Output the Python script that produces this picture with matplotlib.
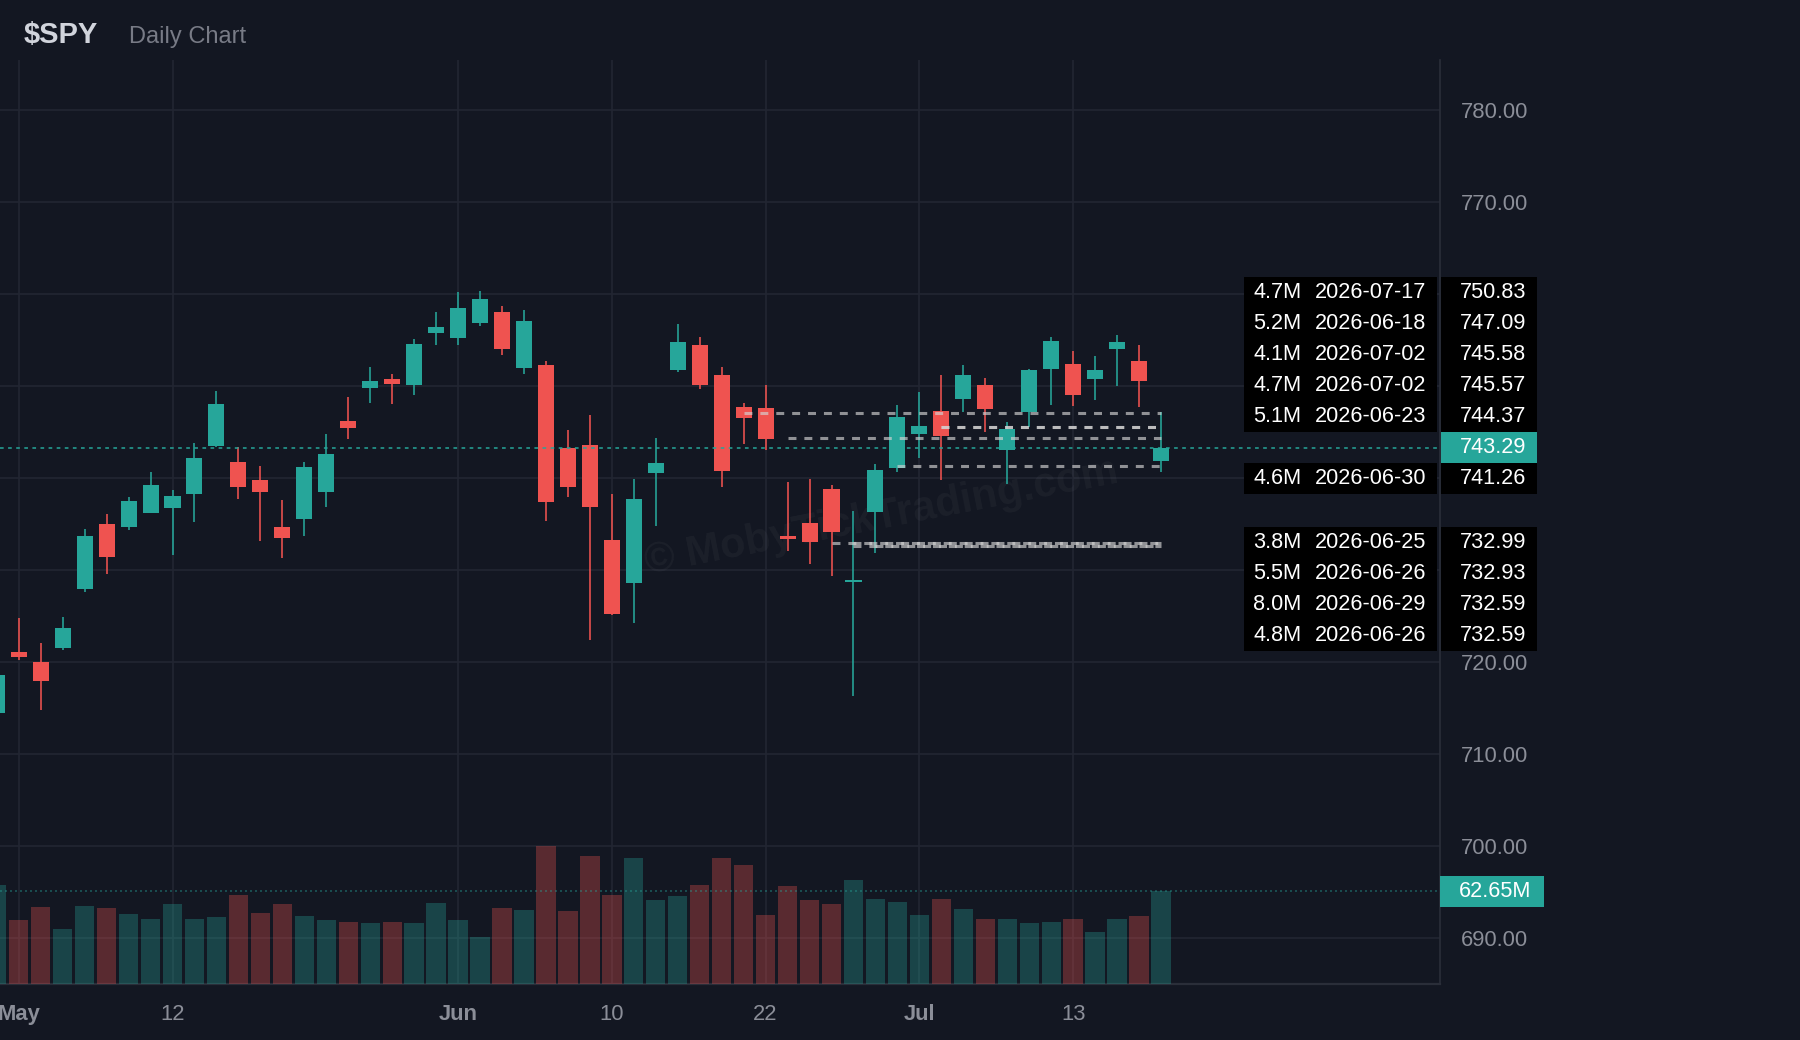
import matplotlib
matplotlib.use("Agg")
import matplotlib.pyplot as plt
import matplotlib.transforms as mtransforms
from matplotlib.patches import Rectangle

plt.rcParams['font.family'] = ['Liberation Sans', 'DejaVu Sans']

# datos diarios de $SPY (30 abr - 17 jul 2026)
fechas = ['2026-04-30',
          '2026-05-01', '2026-05-04', '2026-05-05', '2026-05-06', '2026-05-07', '2026-05-08',
          '2026-05-11', '2026-05-12', '2026-05-13', '2026-05-14', '2026-05-15',
          '2026-05-18', '2026-05-19', '2026-05-20', '2026-05-21', '2026-05-22',
          '2026-05-26', '2026-05-27', '2026-05-28', '2026-05-29',
          '2026-06-01', '2026-06-02', '2026-06-03', '2026-06-04', '2026-06-05',
          '2026-06-08', '2026-06-09', '2026-06-10', '2026-06-11', '2026-06-12',
          '2026-06-15', '2026-06-16', '2026-06-17', '2026-06-18',
          '2026-06-22', '2026-06-23', '2026-06-24', '2026-06-25', '2026-06-26',
          '2026-06-29', '2026-06-30', '2026-07-01', '2026-07-02',
          '2026-07-06', '2026-07-07', '2026-07-08', '2026-07-09', '2026-07-10',
          '2026-07-13', '2026-07-14', '2026-07-15', '2026-07-16', '2026-07-17']
aperturas = [714.5, 721.1, 720.0, 721.5, 727.9, 735.0, 734.7, 736.2, 736.8, 738.3, 743.5,
             741.8, 739.8, 734.7, 735.6, 738.5, 746.2, 749.8, 750.8, 750.1, 755.8,
             755.2, 756.9, 758.1, 752.0, 752.3, 743.3, 743.6, 733.3, 728.6, 740.6,
             751.7, 754.5, 751.2, 747.7, 747.6, 733.7, 735.1, 738.8, 728.7, 736.3,
             741.1, 744.8, 747.3, 748.6, 750.1, 743.0, 747.2, 751.9, 752.4, 750.8,
             754.0, 752.7, 741.9]
maximos = [719.5, 724.8, 722.1, 724.9, 734.5, 736.1, 737.9, 740.7, 738.7, 743.8, 749.5,
           743.4, 741.3, 737.6, 741.8, 744.8, 748.8, 752.1, 751.3, 755.1, 758.1,
           760.2, 760.3, 758.7, 758.3, 752.7, 745.2, 746.9, 738.3, 739.9, 744.4,
           756.7, 755.3, 752.1, 748.2, 750.1, 739.6, 739.9, 739.3, 736.4, 741.5,
           748.0, 749.4, 751.2, 752.3, 750.9, 746.1, 751.9, 755.3, 753.8, 753.3,
           755.6, 754.5, 747.2]
minimos = [713.8, 720.2, 714.8, 721.3, 727.6, 729.6, 734.4, 736.2, 731.6, 735.2, 743.4,
           737.7, 733.2, 731.3, 733.7, 736.9, 744.3, 748.2, 748.1, 749.0, 754.5,
           754.5, 756.5, 753.4, 751.3, 735.3, 737.9, 722.4, 725.1, 724.2, 734.8,
           751.5, 749.7, 739.0, 743.7, 743.0, 732.1, 730.7, 729.4, 716.3, 731.9,
           740.7, 742.2, 739.8, 747.2, 745.0, 739.4, 745.6, 748.0, 747.8, 748.5,
           750.0, 747.7, 740.7]
cierres = [718.6, 720.5, 717.9, 723.7, 733.7, 731.4, 737.5, 739.3, 738.1, 742.2, 748.1,
           739.0, 738.5, 733.5, 741.2, 742.6, 745.5, 750.6, 750.2, 754.6, 756.4,
           758.5, 759.5, 754.0, 757.1, 737.4, 739.0, 736.9, 725.2, 737.7, 741.6,
           754.8, 750.1, 740.8, 746.5, 744.3, 733.4, 733.1, 734.1, 728.9, 740.9,
           746.6, 745.7, 744.6, 751.2, 747.5, 745.3, 751.7, 754.9, 749.0, 751.8,
           754.8, 750.6, 743.29]
volumenes = [67.2, 43.4, 52.3, 37.3, 52.9, 51.6, 47.5, 44.1, 54.3, 44.1, 45.5,
             60.4, 48.2, 54.3, 46.1, 43.4, 42.1, 41.4, 42.1, 41.4, 55.0,
             43.4, 31.9, 51.6, 50.2, 93.6, 49.5, 86.9, 60.4, 85.5, 57.0,
             59.7, 67.2, 85.5, 80.8, 46.8, 66.5, 57.0, 54.3, 70.6, 57.7,
             55.6, 46.8, 57.7, 50.9, 44.1, 44.1, 41.4, 42.1, 44.1, 35.3,
             44.1, 46.1, 62.65]

# niveles marcados a la derecha
niveles_vol = ['4.7M', '5.2M', '4.1M', '4.7M', '5.1M', '4.6M', '3.8M', '5.5M', '8.0M', '4.8M']
niveles_fecha = ['2026-07-17', '2026-06-18', '2026-07-02', '2026-07-02', '2026-06-23',
                 '2026-06-30', '2026-06-25', '2026-06-26', '2026-06-29', '2026-06-26']
niveles_precio = [750.83, 747.09, 745.58, 745.57, 744.37, 741.26, 732.99, 732.93, 732.59, 732.59]

# etiquetas del eje x
ticks_fecha = ['2026-05-01', '2026-05-12', '2026-06-01', '2026-06-10', '2026-06-22', '2026-07-01', '2026-07-13']
ticks_texto = ['May', '12', 'Jun', '10', '22', 'Jul', '13']
meses = ['May', 'Jun', 'Jul']

FONDO = '#131722'
REJILLA = '#222632'
GRIS = '#8b8e98'
VERDE = '#26a69a'
ROJO = '#ef5350'
TAM = 15.6

fig = plt.figure(figsize=(18, 10.4), dpi=100, facecolor=FONDO)
ax = fig.add_axes([0, 56 / 1040, 1440 / 1800, 924 / 1040])
ax.set_facecolor(FONDO)
# eje de volumen (se crea antes para que no mueva las etiquetas del precio)
axv = ax.twinx()

n = len(fechas)
xs = list(range(n))
colores = [VERDE if c >= o else ROJO for o, c in zip(aperturas, cierres)]

# velas
ax.vlines(xs, minimos, maximos, colors=colores, lw=1.15, zorder=3)
cuerpos_base = [min(o, c) for o, c in zip(aperturas, cierres)]
cuerpos_alto = [max(abs(c - o), 0.25) for o, c in zip(aperturas, cierres)]
ax.bar(xs, cuerpos_alto, bottom=cuerpos_base, width=0.73, color=colores, zorder=3)

ax.set_xlim(0.147, 65.7)
ax.set_ylim(684.99, 785.46)

# rejilla y ejes
ax.set_yticks(range(690, 781, 10))
ax.yaxis.set_major_formatter(matplotlib.ticker.FormatStrFormatter('%.2f'))
ax.set_xticks([fechas.index(f) for f in ticks_fecha], ticks_texto)
ax.grid(True, color=REJILLA, lw=1.2, zorder=0)
ax.set_axisbelow(True)
ax.yaxis.tick_right()
ax.tick_params(axis='y', length=0, pad=14.9, labelsize=15.8, labelcolor=GRIS,
               left=False, labelleft=False, right=True, labelright=True)
ax.tick_params(axis='x', length=0, pad=14.4, labelsize=15.8, labelcolor=GRIS)
for lbl in ax.get_xticklabels():
    if lbl.get_text() in meses:
        lbl.set_fontweight('bold')
for lado in ['top', 'left']:
    ax.spines[lado].set_visible(False)
ax.spines['right'].set_color('#2a2e39')
ax.spines['right'].set_linewidth(1.2)
ax.spines['bottom'].set_color('#2a2e39')
ax.spines['bottom'].set_linewidth(1.6)

# marca de agua
ax.text(0.612, 0.505, '© MobyTickTrading.com', transform=ax.transAxes, fontsize=30,
        fontweight='bold', color='white', alpha=0.04, rotation=11,
        ha='center', va='center', rotation_mode='anchor', zorder=1)

# líneas de los niveles
ultimo = n - 1
for p, f in zip(niveles_precio, niveles_fecha):
    i0 = fechas.index(f)
    ax.plot([i0, ultimo], [p, p], color='#d4d4d4', alpha=0.65, lw=2.2,
            ls=(0, (2.6, 2.6)), dash_capstyle='butt', zorder=4)

# precio actual
actual = cierres[-1]
ax.axhline(actual, color=VERDE, lw=1.1, ls=(0, (2.4, 2.9)), zorder=4)

# etiquetas apiladas a la derecha
mezcla = mtransforms.blended_transform_factory(ax.transAxes, ax.transData)
y0, y1 = ax.get_ylim()
alto_fila = 31 * (y1 - y0) / 924

arriba = sorted([k for k, p in enumerate(niveles_precio) if p > actual], key=lambda k: niveles_precio[k])
abajo = sorted([k for k, p in enumerate(niveles_precio) if p <= actual], key=lambda k: -niveles_precio[k])
pos_y = {}
prev = actual
for k in arriba:
    prev = max(niveles_precio[k], prev + alto_fila)
    pos_y[k] = prev
prev = actual
for k in abajo:
    prev = min(niveles_precio[k], prev - alto_fila)
    pos_y[k] = prev

for k, yc in pos_y.items():
    ax.add_patch(Rectangle((0.8639, yc - alto_fila / 2), 0.9979 - 0.8639, alto_fila,
                           transform=mezcla, color='black', clip_on=False, zorder=6, lw=0))
    ax.add_patch(Rectangle((1.0007, yc - alto_fila / 2), 1.0674 - 1.0007, alto_fila,
                           transform=mezcla, color='black', clip_on=False, zorder=6, lw=0))
    ax.text(0.8704, yc, niveles_vol[k], transform=mezcla, color='white', fontsize=TAM,
            ha='left', va='center', zorder=7, clip_on=False)
    ax.text(0.9132, yc, niveles_fecha[k], transform=mezcla, color='white', fontsize=TAM,
            ha='left', va='center', zorder=7, clip_on=False)
    ax.text(1.0597, yc, f'{niveles_precio[k]:.2f}', transform=mezcla, color='white',
            fontsize=TAM, ha='right', va='center', zorder=7, clip_on=False)

ax.add_patch(Rectangle((1.0007, actual - alto_fila / 2), 1.0674 - 1.0007, alto_fila,
                       transform=mezcla, color=VERDE, clip_on=False, zorder=6, lw=0))
ax.text(1.0597, actual, f'{actual:.2f}', transform=mezcla, color='white', fontsize=TAM,
        ha='right', va='center', zorder=7, clip_on=False)

# volumen
colores_vol = [VERDE if c == VERDE else ROJO for c in colores]
axv.bar(xs, volumenes, width=0.88, color=colores_vol, alpha=0.32, lw=0)
axv.set_ylim(0, 625)
axv.set_yticks([])
for lado in axv.spines.values():
    lado.set_visible(False)
vol_actual = volumenes[-1]
axv.axhline(vol_actual, color=VERDE, alpha=0.45, lw=1.2, ls=(0, (1.2, 1.8)))
mezcla_v = mtransforms.blended_transform_factory(axv.transAxes, axv.transData)
alto_v = 31 * 625 / 924
axv.add_patch(Rectangle((1.0, vol_actual - alto_v / 2), 1.0722 - 1.0, alto_v,
                        transform=mezcla_v, color=VERDE, clip_on=False, lw=0, zorder=6))
axv.text(1.0385, vol_actual, f'{vol_actual:.2f}M', transform=mezcla_v, color='white',
         fontsize=TAM, ha='center', va='center', clip_on=False, zorder=7)

# título
fig.text(24 / 1800, 1 - 42.7 / 1040, '$SPY', color='#d1d4dc', fontsize=21,
         fontweight='bold', ha='left', va='baseline')
fig.text(129 / 1800, 1 - 42.7 / 1040, 'Daily Chart', color='#787b86', fontsize=17,
         ha='left', va='baseline')

fig.savefig('out.png', dpi=100, facecolor=FONDO)
